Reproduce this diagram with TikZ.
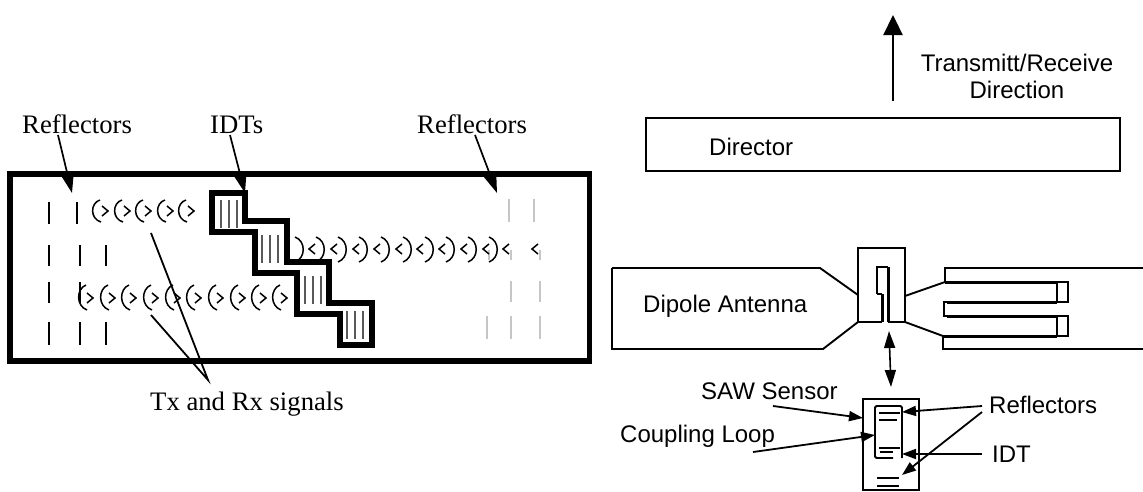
\documentclass[tikz,border=0pt]{standalone}
\usepackage{fontspec}
\setmainfont{Liberation Serif}
\setsansfont{Liberation Sans}
\usetikzlibrary{arrows.meta}

\begin{document}
\begin{tikzpicture}[
        x=1pt, y=-1pt,
        serif/.style={inner sep=0pt, anchor=base west, font=\fontsize{26.7}{30}\selectfont}, % Левая часть
        sans/.style={inner sep=0pt, anchor=base west, font=\sffamily\fontsize{24}{27}\selectfont}, % Правая часть
        frame/.style={draw, line width=5.5pt, rectangle, inner sep=0pt, minimum width=579.5pt, minimum height=187pt},
        stair/.style={draw, line width=5.5pt, line join=miter},
        bar/.style={line width=2pt},
        palebar/.style={line width=2pt, gray!45},
        finger/.style={line width=1.3pt, black!65},
        wave/.style={line width=1.5pt},
        pointer/.style={line width=1.7pt, -{Triangle[length=20pt, width=13pt]}},
        line/.style={line width=1.9pt},
        thick line/.style={line width=3pt},
        note/.style={line width=1.8pt, -{Triangle[length=14pt, width=10pt]}},
    ]
    \useasboundingbox (0,0) rectangle (1143,491);

    % Левая часть: линия задержки
    \node[frame] (board) at (299.75,267.5) {};
    \node[serif] (reflLeft) at (22,133) {Reflectors};
    \node[serif] (idts) at (210,133) {IDTs};
    \node[serif] (reflRight) at (417,133) {Reflectors};
    \node[serif] (signals) at (150,410) {Tx and Rx signals};

    \coordinate (reflLeftFrom) at (58,135);
    \coordinate (reflLeftTo) at (72,193);
    \coordinate (idtsFrom) at (230,135);
    \coordinate (idtsTo) at (245,193);
    \coordinate (reflRightFrom) at (475,135);
    \coordinate (reflRightTo) at (497,193);
    \coordinate (signalsFrom) at (208,380);
    \coordinate (waveUpper) at (151,233);
    \coordinate (waveLower) at (151,315);

    \draw[stair] (212,193) -- (245,193) -- (245,221) -- (287,221) -- (287,262) -- (329,262) -- (329,303)
        -- (372,303) -- (372,345) -- (340,345) -- (340,314) -- (297,314) -- (297,273) -- (255,273)
        -- (255,232) -- (212,232) -- cycle;

    \foreach \x/\top in {221/200, 229/200, 237/200, 262/235, 270/235, 278/235, 305/276, 313/276, 321/276, 347/311, 355/311, 363/311}
        \draw[finger] (\x,\top) -- (\x,\top+28);

    \foreach \x/\top/\bot in {49/202/224, 77/202/224, 49/245/266, 80/245/266, 106/245/266, 49/282/303, 80/282/303, 49/322/345, 80/322/345, 106/322/345}
        \draw[bar] (\x,\top) -- (\x,\bot);
    \foreach \x/\top/\bot in {509/199/222, 534/199/222, 489/250/260, 511/250/260, 540/250/260, 511/281/302, 540/281/302, 487/316/339, 511/316/339, 540/316/339}
        \draw[palebar] (\x,\top) -- (\x,\bot);

    % Сигналы
    \foreach \x in {93,115,136,158,179} {
        \draw[wave] (\x+7,200) .. controls (\x-3,203) and (\x-3,219) .. (\x+8,222);
        \draw[wave] (\x+9,206) -- (\x+15,211) -- (\x+9,216);
    }
    \foreach \x in {79,101,122,144,166,187,209,231,252,273} {
        \draw[wave] (\x+7,285) .. controls (\x-3,289) and (\x-3,306) .. (\x+8,310);
        \draw[wave] (\x+8,293) -- (\x+14,298) -- (\x+8,303);
    }
    \foreach \x in {303,324,346,367,389,411,433,454,476,497}
        \draw[wave] (\x-8,237) .. controls (\x+3,241) and (\x+3,258) .. (\x-8,262);
    \foreach \x in {309,331,353,374,396,417,439,461,483,503,532}
        \draw[wave] (\x+6,244) -- (\x,249) -- (\x+6,254);

    \draw[pointer] (reflLeftFrom) -- (reflLeftTo);
    \draw[pointer] (idtsFrom) -- (idtsTo);
    \draw[pointer] (reflRightFrom) -- (reflRightTo);
    \draw[line width=1.8pt] (waveUpper) -- (signalsFrom) -- (waveLower);

    % Правая часть: антенна
    \coordinate (beamFrom) at (893,101);
    \coordinate (beamTo) at (893,15);
    \draw[line width=2.3pt, -{Triangle[length=20pt, width=19pt]}] (beamFrom) -- (beamTo);
    \node[sans, anchor=center, align=center] (direction) at (1017,76) {Transmitt/Receive\\Direction};
    \node[draw, line width=1.9pt, rectangle, inner sep=0pt, minimum width=474pt, minimum height=53pt] (director) at (883,144.5) {};
    \node[sans] (directorText) at (709,155) {Director};

    \draw[line] (612,268) -- (820,268) -- (858,295);
    \draw[line] (612,268) -- (612,349) -- (823,349) -- (858,322);
    \draw[line] (858,322) -- (858,248) -- (905,248) -- (905,322) -- (888,322);
    \draw[line] (858,322) -- (882,322);
    \draw[line] (877,294) -- (877,267) -- (888,267);
    \draw[line] (877,294) -- (882,294);
    \draw[thick line] (882,294) -- (882,322);
    \draw[thick line] (888,267) -- (888,322);

    \draw[line] (905,296) -- (945,282) -- (945,268) -- (1143,268);
    \draw[line] (905,322) -- (943,336) -- (943,349) -- (1143,349);
    \draw[thick line] (945,282) -- (1057,282);
    \draw[thick line] (947,302) -- (1057,302);
    \draw[thick line] (947,316) -- (1057,316);
    \draw[thick line] (943,336) -- (1057,336);
    \draw[line] (1057,282) rectangle (1068,302);
    \draw[line] (1057,316) rectangle (1068,336);
    \draw[line] (947,302) -- (944,302) -- (944,316) -- (947,316);
    \node[sans] (dipole) at (643,312) {Dipole Antenna};

    \coordinate (linkTop) at (889,331);
    \coordinate (linkBottom) at (891,387);
    \draw[line width=1.6pt, {Triangle[length=17pt, width=11pt]}-{Triangle[length=17pt, width=11pt]}] (linkBottom) -- (linkTop);

    % Сенсор
    \draw[line width=2.2pt] (863,399) rectangle (919,490);
    \draw[line, rounded corners=1.5pt] (893,458) -- (875,458) -- (875,406) -- (902,406) -- (902,458);
    \foreach \y/\xa/\xb in {413/879/900, 420/879/897, 448/879/900, 452/880/893, 478/877/899, 486/877/899}
        \draw[line] (\xa,\y) -- (\xb,\y);

    \node[sans] (saw) at (701,399) {SAW Sensor};
    \node[sans] (coupling) at (620,442) {Coupling Loop};
    \node[sans] (reflSensor) at (989,413) {Reflectors};
    \node[sans] (idt) at (992,462) {IDT};

    \coordinate (sawFrom) at (773,406);
    \coordinate (sawTo) at (863,418);
    \coordinate (couplingFrom) at (753,452);
    \coordinate (couplingTo) at (875,435);
    \coordinate (reflSensorFrom) at (982,406);
    \coordinate (reflSensorTo) at (902,412);
    \coordinate (reflSensorLower) at (982,412);
    \coordinate (reflSensorBottom) at (902,475);
    \coordinate (idtFrom) at (982,454);
    \coordinate (idtTo) at (902,454);
    \draw[note] (sawFrom) -- (sawTo);
    \draw[note] (couplingFrom) -- (couplingTo);
    \draw[note] (reflSensorFrom) -- (reflSensorTo);
    \draw[note] (reflSensorLower) -- (reflSensorBottom);
    \draw[note] (idtFrom) -- (idtTo);
\end{tikzpicture}
\end{document}
